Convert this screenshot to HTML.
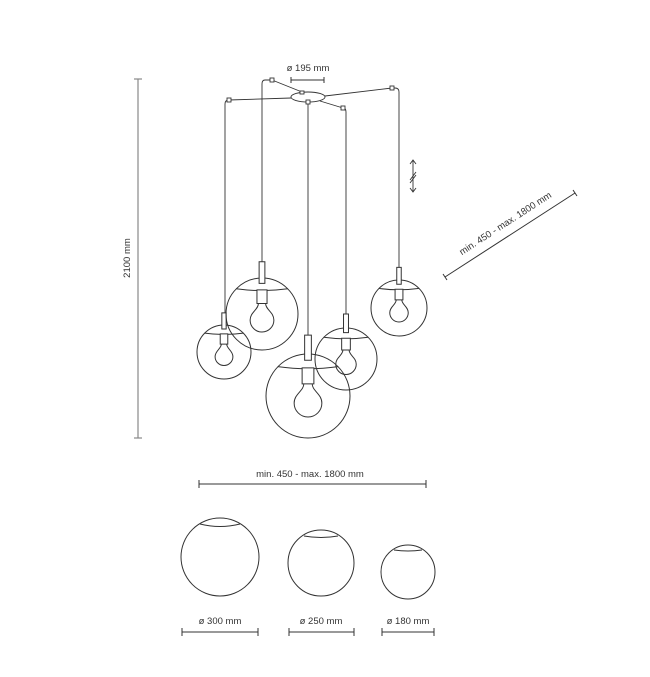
<!DOCTYPE html>
<html><head><meta charset="utf-8"><style>
html,body{margin:0;padding:0;background:#fff;}
svg{display:block;}
text{font-family:"Liberation Sans",sans-serif;fill:#333;font-size:9.5px;}
</style></head><body>
<svg width="650" height="677" viewBox="0 0 650 677" xmlns="http://www.w3.org/2000/svg">
<defs>
<g id="gl" fill="none" stroke="#333" stroke-width="1">
<circle cx="0" cy="0" r="1" vector-effect="non-scaling-stroke"/>
<path d="M-0.72,-0.7 Q0,-0.6 0.72,-0.7" vector-effect="non-scaling-stroke"/>
<rect x="-0.08" y="-1.45" width="0.16" height="0.6" fill="#fff" vector-effect="non-scaling-stroke"/>
<rect x="-0.14" y="-0.67" width="0.28" height="0.38" fill="#fff" vector-effect="non-scaling-stroke"/>
<path d="M-0.1,-0.29 C-0.1,-0.12 -0.33,-0.05 -0.33,0.17 A0.33 0.33 0 0 0 0.33 0.17 C0.33,-0.05 0.1,-0.12 0.1,-0.29" vector-effect="non-scaling-stroke"/>
</g>
</defs>

<!-- 2100 mm -->
<g stroke="#888" stroke-width="1.2">
<line x1="138" y1="79" x2="138" y2="438"/>
<line x1="134" y1="79" x2="142" y2="79"/>
<line x1="134" y1="438" x2="142" y2="438"/>
</g>
<text x="130" y="258" text-anchor="middle" transform="rotate(-90 130 258)">2100 mm</text>

<!-- top dimension -->
<text x="308" y="71" text-anchor="middle">ø 195 mm</text>
<g stroke="#333" stroke-width="1">
<line x1="291" y1="80" x2="324" y2="80"/>
<line x1="291" y1="77" x2="291" y2="83"/>
<line x1="324" y1="77" x2="324" y2="83"/>
</g>

<!-- ceiling and cables -->
<g fill="none" stroke="#333" stroke-width="0.9">
<ellipse cx="308" cy="97" rx="17" ry="5" fill="#fff"/>
<line x1="229" y1="100" x2="291" y2="98"/>
<line x1="272" y1="80" x2="302" y2="92"/>
<line x1="392" y1="88" x2="325" y2="96"/>
<line x1="343" y1="108" x2="320" y2="101"/>
<path d="M229,100 Q225,100 225,104 L225,313"/>
<path d="M272,80 L265,80 Q262,80 262,84 L262,262"/>
<path d="M308,101 L308,335"/>
<path d="M343,108 Q346,108 346,112 L346,314"/>
<path d="M392,88 L395,88 Q399,88 399,92 L399,267"/>
<rect x="227" y="98" width="4" height="4" fill="#fff"/>
<rect x="270" y="78" width="4" height="4" fill="#fff"/>
<rect x="390" y="86" width="4" height="4" fill="#fff"/>
<rect x="341" y="106" width="4" height="4" fill="#fff"/>
<rect x="306" y="100" width="4" height="4" fill="#fff"/>
<rect x="300" y="91" width="4" height="3" fill="#fff"/>
<!-- adjust arrow -->
<path d="M413,160 L413,192 M410,164 L413,160 L416,164 M410,188 L413,192 L416,188 M410,180 L416,172 M410,183 L416,175"/>
</g>

<!-- globes -->
<use href="#gl" transform="translate(224,352) scale(27)"/>
<use href="#gl" transform="translate(262,314) scale(36)"/>
<use href="#gl" transform="translate(308,396) scale(42)"/>
<use href="#gl" transform="translate(346,359) scale(31)"/>
<use href="#gl" transform="translate(399,308) scale(28)"/>

<!-- diagonal dim -->
<g stroke="#333" stroke-width="1">
<line x1="445" y1="277" x2="575" y2="193"/>
<line x1="443" y1="274" x2="447" y2="280"/>
<line x1="573" y1="190" x2="577" y2="196"/>
</g>
<text x="507" y="226" text-anchor="middle" transform="rotate(-33 507 226)">min. 450 - max. 1800 mm</text>

<!-- bottom dim -->
<text x="310" y="477" text-anchor="middle">min. 450 - max. 1800 mm</text>
<g stroke="#333" stroke-width="1">
<line x1="199" y1="484" x2="426" y2="484"/>
<line x1="199" y1="480" x2="199" y2="488"/>
<line x1="426" y1="480" x2="426" y2="488"/>
</g>

<!-- size globes -->
<g fill="none" stroke="#333" stroke-width="1">
<circle cx="220" cy="557" r="39"/>
<path d="M200,524 Q220,529 240,524"/>
<circle cx="321" cy="563" r="33"/>
<path d="M304,536 Q321,539 338,536"/>
<circle cx="408" cy="572" r="27"/>
<path d="M394,550 Q408,552 422,550"/>
</g>
<text x="220" y="624" text-anchor="middle">ø 300 mm</text>
<text x="321" y="624" text-anchor="middle">ø 250 mm</text>
<text x="408" y="624" text-anchor="middle">ø 180 mm</text>
<g stroke="#333" stroke-width="1">
<line x1="182" y1="632" x2="258" y2="632"/><line x1="182" y1="628" x2="182" y2="636"/><line x1="258" y1="628" x2="258" y2="636"/>
<line x1="289" y1="632" x2="354" y2="632"/><line x1="289" y1="628" x2="289" y2="636"/><line x1="354" y1="628" x2="354" y2="636"/>
<line x1="382" y1="632" x2="434" y2="632"/><line x1="382" y1="628" x2="382" y2="636"/><line x1="434" y1="628" x2="434" y2="636"/>
</g>
</svg>
</body></html>
